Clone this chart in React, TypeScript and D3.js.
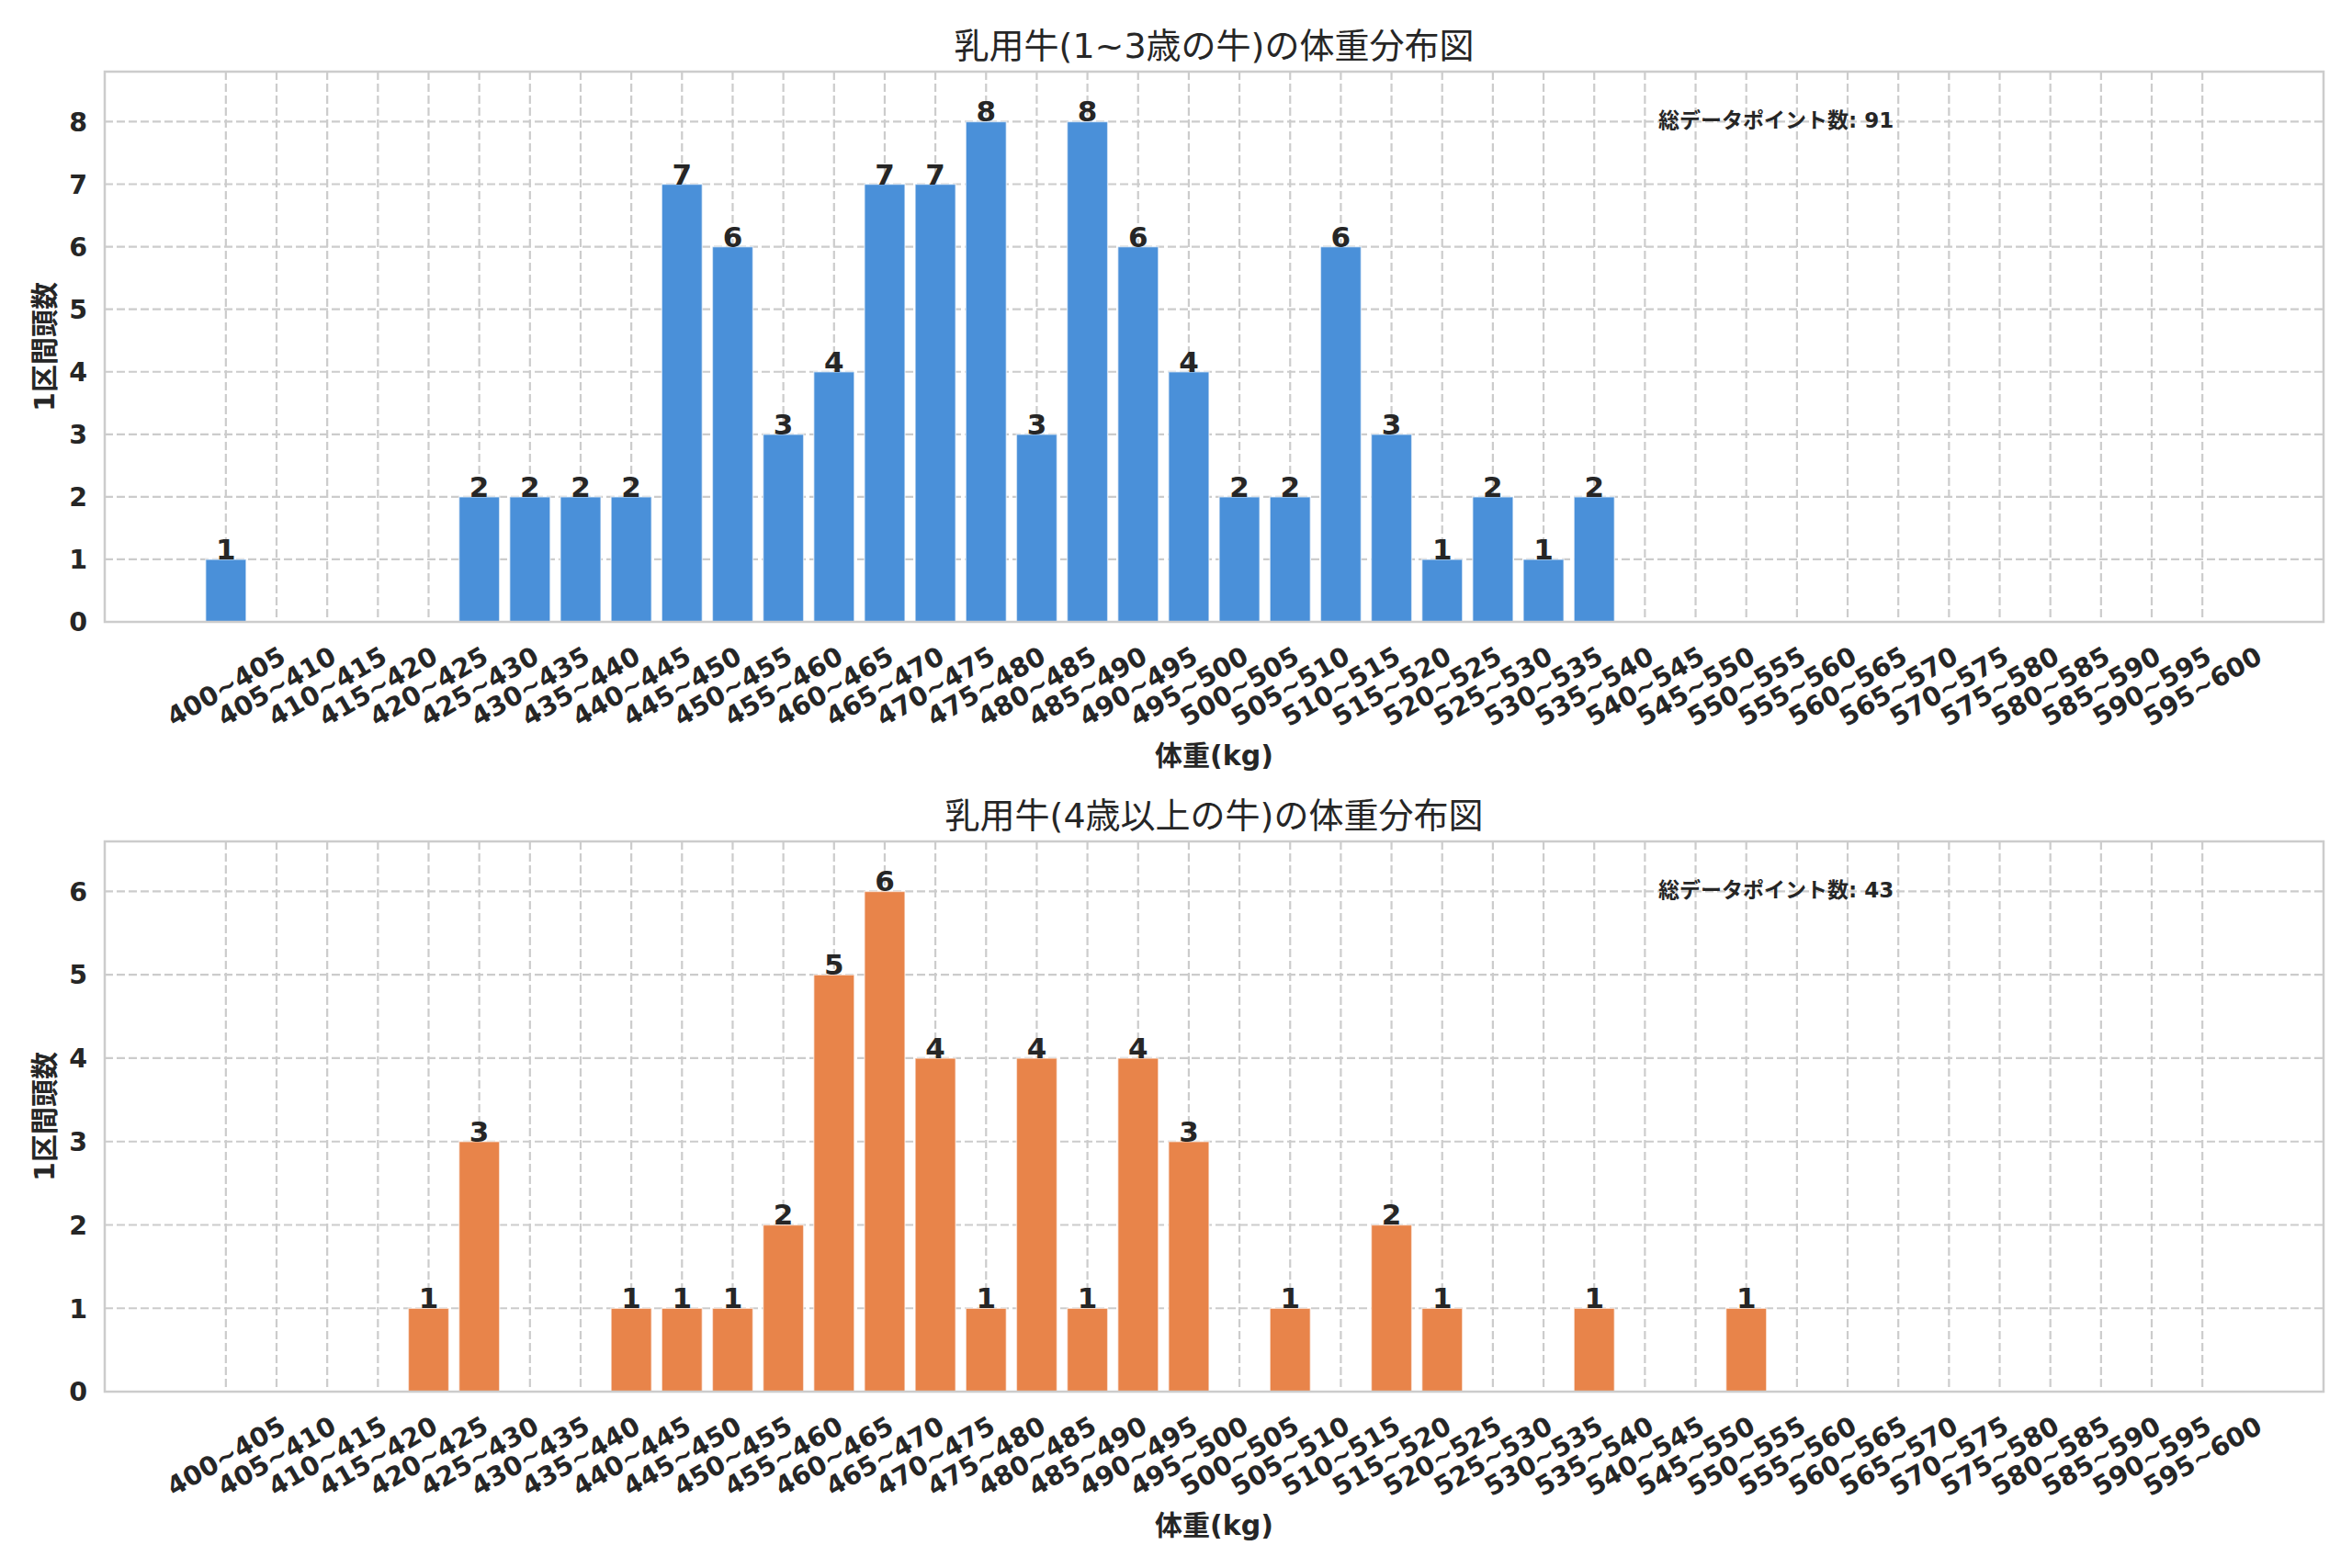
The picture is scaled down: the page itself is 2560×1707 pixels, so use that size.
import React, { useRef, useEffect } from "react";
import * as d3 from "d3";

// weight bins, 400~405 ... 595~600
const binLabels: string[] = d3.range(400, 600, 5).map((v) => `${v}~${v + 5}`);

// counts per bin
const countsYoung: number[] = [
  1, 0, 0, 0, 0, 2, 2, 2, 2, 7, 6, 3, 4, 7, 7, 8, 3, 8, 6, 4,
  2, 2, 6, 3, 1, 2, 1, 2, 0, 0, 0, 0, 0, 0, 0, 0, 0, 0, 0, 0,
];
const countsOld: number[] = [
  0, 0, 0, 0, 1, 3, 0, 0, 1, 1, 1, 2, 5, 6, 4, 1, 4, 1, 4, 3,
  0, 1, 0, 2, 1, 0, 0, 1, 0, 0, 1, 0, 0, 0, 0, 0, 0, 0, 0, 0,
];

const panelTitles: string[] = [
  "乳用牛(1~3歳の牛)の体重分布図",
  "乳用牛(4歳以上の牛)の体重分布図",
];
const panelNotes: string[] = ["総データポイント数", "総データポイント数"];
const barColors: string[] = ["#4a90d9", "#e8844a"];
const xLabel = "体重(kg)";
const yLabel = "1区間頭数";

const FONT = "'DejaVu Sans', 'Noto Sans CJK JP', sans-serif";
const TEXT = "#262626";

export default function App() {
  const svgRef = useRef<SVGSVGElement | null>(null);

  useEffect(() => {
    const W = 2560;
    const H = 1707;
    const svg = d3.select(svgRef.current);
    svg.selectAll("*").remove();
    svg.attr("width", W).attr("height", H);
    svg.append("rect").attr("width", W).attr("height", H).attr("fill", "#fff");

    const left = 114;
    const right = 2529;
    const panelTops = [78, 916];
    const panelH = 599;

    const drawPanel = (i: number, counts: number[]) => {
      const top = panelTops[i];
      const bottom = top + panelH;
      const maxV = d3.max(counts) ?? 1;

      // matplotlib-like categorical x: positions 0..n-1, 5% margins
      const n = binLabels.length;
      const span = n - 1 + 0.8;
      const pad = span * 0.05;
      const x = d3
        .scaleLinear()
        .domain([-0.4 - pad, n - 1 + 0.4 + pad])
        .range([left, right]);
      const y = d3.scaleLinear().domain([0, maxV * 1.1]).range([bottom, top]);
      const bw = x(0.8) - x(0);

      const g = svg.append("g");

      // grid
      const yTicks = d3.range(0, Math.floor(maxV * 1.1) + 1);
      g.selectAll(".hgrid")
        .data(yTicks)
        .join("line")
        .attr("x1", left)
        .attr("x2", right)
        .attr("y1", (d) => y(d))
        .attr("y2", (d) => y(d))
        .attr("stroke", "#cccccc")
        .attr("stroke-width", 2.2)
        .attr("stroke-dasharray", "9,4");
      g.selectAll(".vgrid")
        .data(binLabels)
        .join("line")
        .attr("x1", (_, j) => x(j))
        .attr("x2", (_, j) => x(j))
        .attr("y1", top)
        .attr("y2", bottom)
        .attr("stroke", "#cccccc")
        .attr("stroke-width", 2.2)
        .attr("stroke-dasharray", "9,4");

      // bars
      g.selectAll(".bar")
        .data(counts)
        .join("rect")
        .attr("x", (_, j) => x(j) - bw / 2)
        .attr("width", bw)
        .attr("y", (d) => y(d))
        .attr("height", (d) => y(0) - y(d))
        .attr("fill", barColors[i])
        .attr("stroke", "#ffffff")
        .attr("stroke-opacity", 0.6)
        .attr("stroke-width", (d) => (d > 0 ? 1.5 : 0));

      // value labels
      g.selectAll(".val")
        .data(counts.map((v, j) => ({ v, j })).filter((d) => d.v > 0))
        .join("text")
        .attr("x", (d) => x(d.j))
        .attr("y", (d) => y(d.v))
        .attr("text-anchor", "middle")
        .attr("fill", TEXT)
        .style("font-family", FONT)
        .style("font-weight", "bold")
        .style("font-size", "31px")
        .text((d) => String(d.v));

      // frame
      g.append("rect")
        .attr("x", left)
        .attr("y", top)
        .attr("width", right - left)
        .attr("height", panelH)
        .attr("fill", "none")
        .attr("stroke", "#cccccc")
        .attr("stroke-width", 2.5);

      // y ticks
      g.selectAll(".ytick")
        .data(yTicks)
        .join("text")
        .attr("x", 95)
        .attr("y", (d) => y(d))
        .attr("dy", "0.36em")
        .attr("text-anchor", "end")
        .attr("fill", TEXT)
        .style("font-family", FONT)
        .style("font-weight", "bold")
        .style("font-size", "28.5px")
        .text((d) => String(d));

      // x ticks, rotated 30deg, centred on tick
      g.selectAll(".xtick")
        .data(binLabels)
        .join("text")
        .attr(
          "transform",
          (_, j) => `translate(${x(j)},${bottom + 70}) rotate(-30)`
        )
        .attr("text-anchor", "middle")
        .attr("dy", "0.36em")
        .attr("fill", TEXT)
        .style("font-family", FONT)
        .style("font-weight", "bold")
        .style("font-size", "28.5px")
        .text((d) => d);

      // axis labels
      g.append("text")
        .attr("x", (left + right) / 2)
        .attr("y", bottom + 145)
        .attr("dy", "0.36em")
        .attr("text-anchor", "middle")
        .attr("fill", TEXT)
        .style("font-family", FONT)
        .style("font-weight", "bold")
        .style("font-size", "30px")
        .text(xLabel);
      g.append("text")
        .attr("transform", `translate(48,${(top + bottom) / 2}) rotate(-90)`)
        .attr("dy", "0.36em")
        .attr("text-anchor", "middle")
        .attr("fill", TEXT)
        .style("font-family", FONT)
        .style("font-weight", "bold")
        .style("font-size", "30px")
        .text(yLabel);

      // title
      g.append("text")
        .attr("x", (left + right) / 2)
        .attr("y", top - 15)
        .attr("text-anchor", "middle")
        .attr("fill", TEXT)
        .style("font-family", FONT)
        .style("font-size", "38px")
        .text(panelTitles[i]);

      // total note
      g.append("text")
        .attr("x", 1805)
        .attr("y", top + 61)
        .attr("fill", TEXT)
        .style("font-family", FONT)
        .style("font-weight", "bold")
        .style("font-size", "23px")
        .text(`${panelNotes[i]}: ${d3.sum(counts)}`);
    };

    drawPanel(0, countsYoung);
    drawPanel(1, countsOld);
  }, []);

  return (
    <svg
      ref={svgRef}
      style={{ position: "absolute", top: 0, left: 0, display: "block" }}
    />
  );
}
